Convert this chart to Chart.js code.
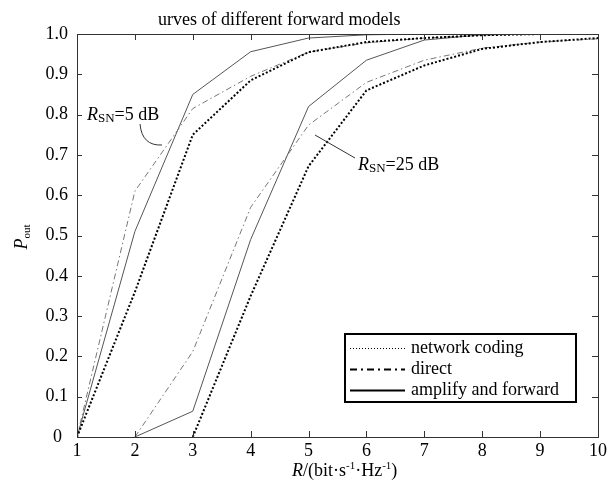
<!DOCTYPE html>
<html>
<head>
<meta charset="utf-8">
<script src="https://cdn.jsdelivr.net/npm/chart.js@4.4.1/dist/chart.umd.min.js"></script>
<style>
  html, body { margin: 0; padding: 0; background: #fff; }
  #wrap { width: 613px; height: 482px; }
</style>
</head>
<body>
<div id="wrap"><canvas id="c" width="613" height="482"></canvas></div>
<script>
// ---- data ----
const rates = [1, 2, 3, 4, 5, 6, 7, 8, 9, 10];
const xTicks = [1, 2, 3, 4, 5, 6, 7, 8, 9, 10];
const yTicks = [0, 0.1, 0.2, 0.3, 0.4, 0.5, 0.6, 0.7, 0.8, 0.9, 1.0];

// R_SN = 5 dB group
const nc5     = [0, 0.36, 0.75, 0.885, 0.955, 0.98, 0.99, 0.997, 1.0, 1.0];
const direct5 = [0, 0.61, 0.815, 0.895, 0.955, 0.978, 0.99, 0.997, 1.0, 1.0];
const af5     = [0, 0.51, 0.85, 0.956, 0.99, 0.998, 1.0, 1.0, 1.0, 1.0];
// R_SN = 25 dB group
const nc25     = [null, null, 0, 0.35, 0.672, 0.86, 0.922, 0.963, 0.98, 0.99];
const direct25 = [null, 0, 0.212, 0.57, 0.774, 0.88, 0.935, 0.965, 0.98, 0.988];
const af25     = [null, 0, 0.064, 0.49, 0.82, 0.935, 0.985, 0.998, 1.0, 1.0];

const legendLabels = ['network coding', 'direct', 'amplify and forward'];
const titleText = 'urves of different forward models';

const FONT = '"Liberation Serif", "Times New Roman", serif';
Chart.defaults.font.family = FONT;

function pts(arr) {
  return rates.map((x, i) => ({ x: x, y: arr[i] })).filter(p => p.y !== null);
}

const dottedStyle = { borderColor: '#000', borderWidth: 2, borderDash: [2, 2] };
const dashDotStyle = { borderColor: '#777', borderWidth: 1, borderDash: [6, 3, 1.5, 3] };
const solidStyle = { borderColor: '#555', borderWidth: 1, borderDash: [] };

function ds(label, arr, style) {
  return Object.assign({
    label: label, data: pts(arr), pointRadius: 0, tension: 0, fill: false
  }, style);
}

function richText(ctx, x, y, parts, align) {
  // parts: [{t, size, italic, dy}]
  let total = 0;
  parts.forEach(p => {
    ctx.font = (p.italic ? 'italic ' : '') + p.size + 'px ' + FONT;
    p.w = ctx.measureText(p.t).width;
    total += p.w;
  });
  let cx = align === 'center' ? x - total / 2 : x;
  parts.forEach(p => {
    ctx.font = (p.italic ? 'italic ' : '') + p.size + 'px ' + FONT;
    ctx.fillText(p.t, cx, y + (p.dy || 0));
    cx += p.w;
  });
}

const decor = {
  id: 'decor',
  afterDraw(chart) {
    const ctx = chart.ctx;
    const a = chart.chartArea;
    const xs = chart.scales.x, ys = chart.scales.y;
    ctx.save();
    // frame
    ctx.strokeStyle = '#333';
    ctx.lineWidth = 1;
    ctx.setLineDash([]);
    ctx.strokeRect(Math.round(a.left) + 0.5, Math.round(a.top) + 0.5,
                   Math.round(a.right - a.left), Math.round(a.bottom - a.top));
    // inward ticks
    ctx.beginPath();
    xTicks.forEach(v => {
      if (v === xs.min || v === xs.max) return;
      const px = Math.round(xs.getPixelForValue(v)) + 0.5;
      ctx.moveTo(px, a.bottom); ctx.lineTo(px, a.bottom - 6);
      ctx.moveTo(px, a.top); ctx.lineTo(px, a.top + 6);
    });
    yTicks.forEach(v => {
      if (v === ys.min || v === ys.max) return;
      const py = Math.round(ys.getPixelForValue(v)) + 0.5;
      ctx.moveTo(a.left, py); ctx.lineTo(a.left + 5, py);
      ctx.moveTo(a.right, py); ctx.lineTo(a.right - 6, py);
    });
    ctx.stroke();

    // title
    ctx.fillStyle = '#000';
    ctx.textBaseline = 'alphabetic';
    ctx.textAlign = 'left';
    ctx.font = '18px ' + FONT;
    ctx.fillText(titleText, 158, 25);

    // x axis title
    richText(ctx, 292, 476, [
      { t: 'R', size: 18, italic: true },
      { t: '/(bit\u00B7s', size: 18 },
      { t: '-1', size: 11, dy: -7 },
      { t: '\u00B7Hz', size: 18 },
      { t: '-1', size: 11, dy: -7 },
      { t: ')', size: 18 }
    ], 'left');

    // y axis title (rotated)
    ctx.save();
    ctx.translate(27, 237);
    ctx.rotate(-Math.PI / 2);
    richText(ctx, 0, 0, [
      { t: 'P', size: 18, italic: true },
      { t: 'out', size: 11, dy: 3 }
    ], 'center');
    ctx.restore();

    // annotations
    richText(ctx, 87, 120, [
      { t: 'R', size: 18, italic: true },
      { t: 'SN', size: 13, dy: 2 },
      { t: '=5 dB', size: 18 }
    ], 'left');
    richText(ctx, 358, 170, [
      { t: 'R', size: 18, italic: true },
      { t: 'SN', size: 13, dy: 2 },
      { t: '=25 dB', size: 18 }
    ], 'left');
    ctx.strokeStyle = '#333';
    ctx.lineWidth = 1;
    ctx.beginPath();
    ctx.moveTo(140, 124);
    ctx.quadraticCurveTo(142, 146, 162, 145);
    ctx.moveTo(315, 135);
    ctx.lineTo(355, 158);
    ctx.stroke();

    // legend
    ctx.fillStyle = '#fff';
    ctx.fillRect(345, 334, 231, 68);
    ctx.strokeStyle = '#000';
    ctx.lineWidth = 2;
    ctx.strokeRect(345, 334, 231, 68);
    const rows = [348, 369, 390];
    const samples = [
      { w: 1, dash: [1, 2] },
      { w: 2, dash: [7, 4, 2, 4] },
      { w: 2, dash: [] }
    ];
    rows.forEach((y, i) => {
      ctx.lineWidth = samples[i].w;
      ctx.setLineDash(samples[i].dash);
      ctx.beginPath();
      ctx.moveTo(350, y + 0.5);
      ctx.lineTo(405, y + 0.5);
      ctx.stroke();
      ctx.setLineDash([]);
      ctx.fillStyle = '#000';
      ctx.font = '18px ' + FONT;
      ctx.textBaseline = 'middle';
      ctx.fillText(legendLabels[i], 411, y);
    });
    ctx.restore();
  }
};

new Chart(document.getElementById('c'), {
  type: 'line',
  data: {
    datasets: [
      ds('network coding 5 dB', nc5, dottedStyle),
      ds('direct 5 dB', direct5, dashDotStyle),
      ds('amplify and forward 5 dB', af5, solidStyle),
      ds('network coding 25 dB', nc25, dottedStyle),
      ds('direct 25 dB', direct25, dashDotStyle),
      ds('amplify and forward 25 dB', af25, solidStyle)
    ]
  },
  options: {
    responsive: false,
    animation: false,
    devicePixelRatio: 1,
    layout: { padding: { top: 34, right: 15, left: 0, bottom: 0 } },
    plugins: { legend: { display: false }, tooltip: { enabled: false }, title: { display: false } },
    scales: {
      x: {
        type: 'linear', min: 1, max: 10,
        afterBuildTicks(s) { s.ticks = xTicks.map(v => ({ value: v })); },
        afterFit(s) { s.height = 45; },
        ticks: { font: { size: 18, family: FONT }, color: '#000', padding: 3, maxRotation: 0,
                 callback: v => String(v) },
        grid: { drawOnChartArea: false, drawTicks: false },
        border: { display: false }
      },
      y: {
        min: 0, max: 1,
        afterBuildTicks(s) { s.ticks = yTicks.map(v => ({ value: v })); },
        afterFit(s) { s.width = 77; },
        ticks: { font: { size: 18, family: FONT }, color: '#000', padding: 9,
                 callback: v => (v === 0 ? '0\u2004' : v.toFixed(1)) },
        grid: { drawOnChartArea: false, drawTicks: false },
        border: { display: false }
      }
    }
  },
  plugins: [decor]
});
</script>
</body>
</html>
